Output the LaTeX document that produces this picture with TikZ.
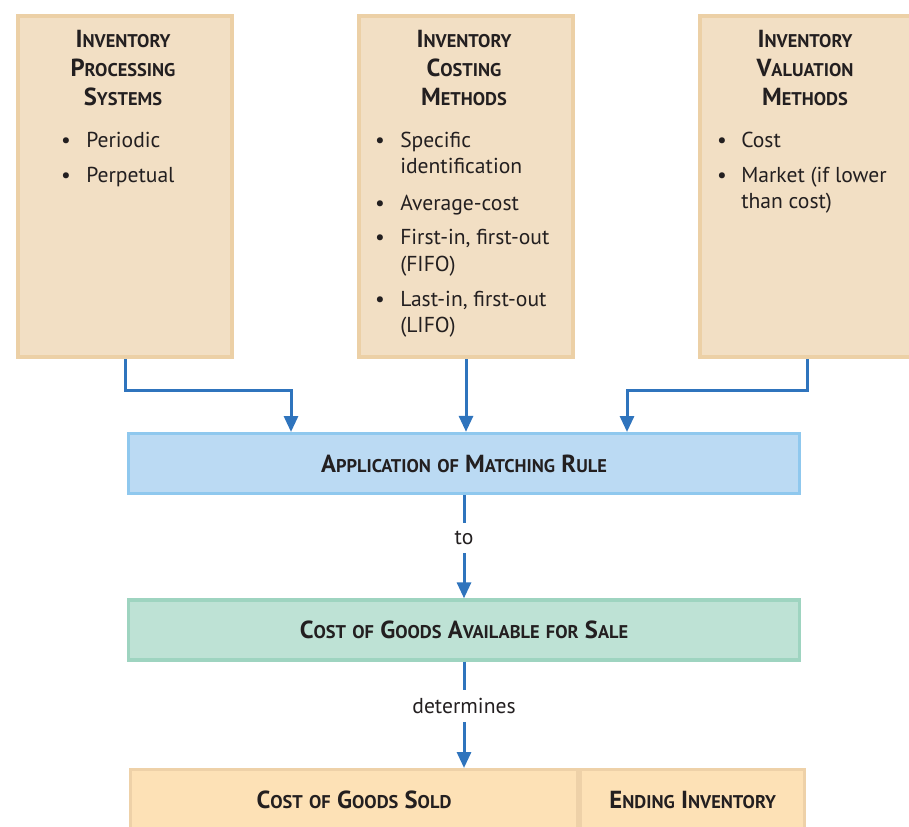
\documentclass[tikz,border=0pt]{standalone}
\usepackage{fontspec}
\setmainfont{PT Sans}
\usetikzlibrary{arrows.meta, positioning, calc}
\usepackage{xcolor}
\definecolor{tanfill}{HTML}{F2DFC4}
\definecolor{tanline}{HTML}{ECD0A6}
\definecolor{bluefill}{HTML}{BBDAF3}
\definecolor{blueline}{HTML}{8FC8EE}
\definecolor{greenfill}{HTML}{BEE2D5}
\definecolor{greenline}{HTML}{9ED4C0}
\definecolor{peachfill}{HTML}{FDE1B6}
\definecolor{peachline}{HTML}{EED1A8}
\definecolor{linkblue}{HTML}{2F74BD}
\definecolor{ink}{HTML}{231F20}
\newcommand\headfont{\fontsize{18.5pt}{20pt}\selectfont\bfseries}
\newcommand\itemfont{\fontsize{16.2pt}{19pt}\selectfont}
\newcommand\scsize{\fontsize{13.8pt}{15pt}\selectfont}
\newcommand\scw[2]{#1{\scsize #2}}
\newcommand\scl[1]{{\scsize #1}}

\begin{document}
\begin{tikzpicture}[x=0.75pt, y=-0.75pt, text=ink,
    panel/.style={draw=tanline, line width=3pt, fill=tanfill, minimum width=160.5pt, minimum height=255.75pt, anchor=north west},
    band/.style={line width=2.5pt, minimum width=503pt, minimum height=45pt, font=\headfont},
    head/.style={anchor=base, font=\headfont, inner sep=0pt},
    item/.style={anchor=base west, font=\itemfont, inner sep=0pt},
    dot/.style={anchor=base, font=\itemfont, inner sep=0pt},
    tag/.style={font=\itemfont, inner sep=6pt},
    link/.style={draw=linkblue, line width=2.25pt, -{Triangle[length=12pt,width=10.5pt]}}
  ]
  \useasboundingbox (0,0) rectangle (909,827);

  % three top panels
  \node[panel] (proc) at (16,14) {};
  \node[panel] (cost) at (357,14) {};
  \node[panel] (valu) at (698,14) {};

  \node[head] at (123,47.5) {\scw{I}{NVENTORY}};
  \node[head] at (123,76.5) {\scw{P}{ROCESSING}};
  \node[head] at (123,105.5) {\scw{S}{YSTEMS}};
  \node[dot] at (66,148) {\textbullet};
  \node[item] (p1) at (86,148) {Periodic};
  \node[dot] at (66,183) {\textbullet};
  \node[item] (p2) at (86,183) {Perpetual};

  \node[head] at (464,47.5) {\scw{I}{NVENTORY}};
  \node[head] at (464,76.5) {\scw{C}{OSTING}};
  \node[head] at (464,105.5) {\scw{M}{ETHODS}};
  \node[dot] at (380,148) {\textbullet};
  \node[item] (c1) at (400,148) {Specific};
  \node[item] (c1b) at (400,174) {identification};
  \node[dot] at (380,210) {\textbullet};
  \node[item] (c2) at (400,210) {Average-cost};
  \node[dot] at (380,244) {\textbullet};
  \node[item] (c3) at (400,244) {First-in, first-out};
  \node[item] (c3b) at (400,271) {(FIFO)};
  \node[dot] at (380,306) {\textbullet};
  \node[item] (c4) at (400,306) {Last-in, first-out};
  \node[item] (c4b) at (400,332) {(LIFO)};

  \node[head] at (805,47.5) {\scw{I}{NVENTORY}};
  \node[head] at (805,76.5) {\scw{V}{ALUATION}};
  \node[head] at (805,105.5) {\scw{M}{ETHODS}};
  \node[dot] at (722,148) {\textbullet};
  \node[item] (v1) at (741,148) {Cost};
  \node[dot] at (722,183) {\textbullet};
  \node[item] (v2) at (741,183) {Market (if lower};
  \node[item] (v2b) at (741,209) {than cost)};

  % bands
  \node[band, draw=blueline, fill=bluefill] (match) at (464,463.5) {\scw{A}{PPLICATION} \scl{OF} \scw{M}{ATCHING} \scw{R}{ULE}};
  \node[band, draw=greenline, fill=greenfill] (avail) at (464,630) {\scw{C}{OST} \scl{OF} \scw{G}{OODS} \scw{A}{VAILABLE} \scl{FOR} \scw{S}{ALE}};
  \node[band, draw=peachline, fill=peachfill, minimum width=335pt, anchor=north west] (sold) at (129,768) {\scw{C}{OST} \scl{OF} \scw{G}{OODS} \scw{S}{OLD}};
  \node[band, draw=peachline, fill=peachfill, minimum width=168pt, anchor=west] (endinv) at (sold.east) {\scw{E}{NDING} \scw{I}{NVENTORY}};

  % connectors
  \coordinate (in1) at (291,432);
  \coordinate (in3) at (627,432);
  \draw[link] (proc.south) -- ++(0,31) -| (in1);
  \draw[link] (cost.south) -- (cost.south |- match.north);
  \draw[link] (valu.south) -- ++(0,31) -| (in3);

  \node[tag] (to) at (464,538) {to};
  \draw[link, -] (match.south) -- (to);
  \draw[link] (to) -- (avail.north);

  \node[tag] (det) at (464,706) {determines};
  \draw[link, -] (avail.south) -- (det);
  \draw[link] (det) -- (det |- sold.north);
\end{tikzpicture}
\end{document}
